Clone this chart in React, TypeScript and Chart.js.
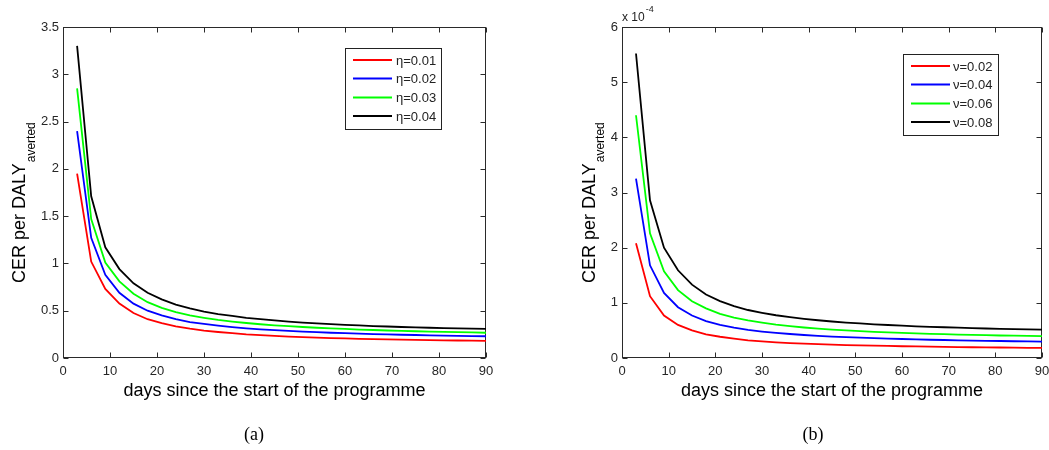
import React, { useEffect, useRef } from "react";
import { Chart, registerables } from "chart.js";

Chart.register(...registerables);

// ---------- data ----------
const DAYS = [3, 6, 9, 12, 15, 18, 21, 24, 27, 30, 33, 36, 39, 42, 45, 48, 51, 54, 57, 60, 63, 66, 69, 72, 75, 78, 81, 84, 87, 90];

const ETA_LABELS = ["η=0.01", "η=0.02", "η=0.03", "η=0.04"];
const ETA_001 = [1.95, 1.02, 0.73, 0.575, 0.475, 0.41, 0.37, 0.335, 0.31, 0.29, 0.275, 0.262, 0.25, 0.242, 0.234, 0.227, 0.221, 0.216, 0.211, 0.207, 0.203, 0.2, 0.197, 0.194, 0.191, 0.189, 0.187, 0.185, 0.183, 0.181];
const ETA_002 = [2.4, 1.27, 0.88, 0.69, 0.575, 0.5, 0.45, 0.41, 0.38, 0.36, 0.342, 0.327, 0.314, 0.303, 0.294, 0.286, 0.279, 0.273, 0.267, 0.262, 0.257, 0.253, 0.249, 0.246, 0.243, 0.24, 0.237, 0.234, 0.232, 0.23];
const ETA_003 = [2.85, 1.47, 1.01, 0.81, 0.68, 0.59, 0.53, 0.485, 0.45, 0.425, 0.403, 0.385, 0.37, 0.357, 0.346, 0.336, 0.328, 0.32, 0.313, 0.307, 0.301, 0.296, 0.291, 0.287, 0.283, 0.279, 0.276, 0.273, 0.27, 0.267];
const ETA_004 = [3.3, 1.71, 1.17, 0.94, 0.79, 0.69, 0.62, 0.565, 0.525, 0.49, 0.465, 0.445, 0.425, 0.41, 0.397, 0.385, 0.375, 0.366, 0.358, 0.351, 0.344, 0.338, 0.333, 0.328, 0.324, 0.32, 0.316, 0.313, 0.31, 0.307];

// panel (b) values in units of 10^-4
const NU_LABELS = ["ν=0.02", "ν=0.04", "ν=0.06", "ν=0.08"];
const NU_002 = [2.08, 1.12, 0.77, 0.6, 0.5, 0.43, 0.385, 0.35, 0.32, 0.3, 0.285, 0.27, 0.26, 0.25, 0.242, 0.235, 0.229, 0.223, 0.218, 0.213, 0.209, 0.205, 0.201, 0.198, 0.195, 0.192, 0.19, 0.187, 0.185, 0.183];
const NU_004 = [3.25, 1.68, 1.18, 0.92, 0.77, 0.67, 0.6, 0.55, 0.51, 0.48, 0.455, 0.435, 0.417, 0.402, 0.389, 0.378, 0.368, 0.359, 0.351, 0.344, 0.337, 0.331, 0.326, 0.321, 0.316, 0.312, 0.308, 0.304, 0.301, 0.298];
const NU_006 = [4.4, 2.26, 1.57, 1.23, 1.03, 0.9, 0.8, 0.73, 0.68, 0.64, 0.605, 0.577, 0.553, 0.533, 0.515, 0.5, 0.487, 0.475, 0.464, 0.455, 0.446, 0.438, 0.431, 0.425, 0.419, 0.413, 0.408, 0.404, 0.4, 0.396];
const NU_008 = [5.52, 2.86, 2.0, 1.59, 1.33, 1.15, 1.03, 0.94, 0.87, 0.82, 0.775, 0.74, 0.71, 0.684, 0.662, 0.643, 0.626, 0.611, 0.598, 0.586, 0.575, 0.566, 0.557, 0.549, 0.542, 0.535, 0.529, 0.523, 0.518, 0.513];

const X_TICKS = [0, 10, 20, 30, 40, 50, 60, 70, 80, 90];
const Y_TICKS_A = [0, 0.5, 1, 1.5, 2, 2.5, 3, 3.5];
const Y_TICKS_B = [0, 1, 2, 3, 4, 5, 6];

const X_TITLE = "days since the start of the programme";
const Y_TITLE = "CER per DALY";
const Y_SUB = "averted";
const EXP_LABEL = "x 10";
const EXP_POWER = "-4";

const COLORS = ["#ff0000", "#0000ff", "#00ff00", "#000000"];

const SANS = "'Liberation Sans', Arial, Helvetica, sans-serif";
const SERIF = "'Liberation Serif', 'Times New Roman', serif";

type PanelSpec = {
  series: number[][];
  labels: string[];
  yMax: number;
  yTicks: number[];
  caption: string;
  width: number;
  plotLeft: number;
  plotRight: number;
  plotTop: number;
  plotBottom: number;
  yTitleX: number;
  ySubX: number;
  legend: { x: number; y: number; w: number; h: number; lx0: number; lx1: number; tx: number; rows: number[] };
  captionX: number;
  exponent: boolean;
};

function makeConfig(p: PanelSpec): any {
  const H = 450;
  const framePlugin = {
    id: "frame",
    beforeDatasetsDraw(chart: any) {
      const { ctx, chartArea: a, scales } = chart;
      ctx.save();
      ctx.strokeStyle = "#2a2a2a";
      ctx.lineWidth = 1;
      const L = Math.round(a.left) + 0.5, R = Math.round(a.right) - 0.5;
      const T = Math.round(a.top) + 0.5, B = Math.round(a.bottom) - 0.5;
      ctx.strokeRect(L, T, R - L, B - T);
      ctx.beginPath();
      const tl = 5;
      X_TICKS.forEach((v) => {
        const x = Math.round(scales.x.getPixelForValue(v)) + 0.5;
        ctx.moveTo(x, B); ctx.lineTo(x, B - tl);
        ctx.moveTo(x, T); ctx.lineTo(x, T + tl);
      });
      p.yTicks.forEach((v) => {
        const y = Math.round(scales.y.getPixelForValue(v)) + 0.5;
        ctx.moveTo(L, y); ctx.lineTo(L + tl, y);
        ctx.moveTo(R, y); ctx.lineTo(R - tl, y);
      });
      ctx.stroke();
      ctx.restore();
    },
    afterDatasetsDraw(chart: any) {
      const { ctx, chartArea: a } = chart;
      ctx.save();
      // legend
      const lg = p.legend;
      ctx.fillStyle = "#ffffff";
      ctx.fillRect(lg.x, lg.y, lg.w, lg.h);
      ctx.strokeStyle = "#222";
      ctx.lineWidth = 1;
      ctx.strokeRect(lg.x + 0.5, lg.y + 0.5, lg.w, lg.h);
      ctx.font = `13px ${SANS}`;
      ctx.textBaseline = "middle";
      ctx.textAlign = "left";
      p.labels.forEach((lab, i) => {
        const y = lg.rows[i];
        ctx.strokeStyle = COLORS[i];
        ctx.lineWidth = 2;
        ctx.beginPath();
        ctx.moveTo(lg.lx0, y);
        ctx.lineTo(lg.lx1, y);
        ctx.stroke();
        ctx.fillStyle = "#222";
        ctx.fillText(lab, lg.tx, y + 1);
      });
      // x title
      ctx.fillStyle = "#000";
      ctx.font = `18px ${SANS}`;
      ctx.textAlign = "center";
      ctx.textBaseline = "alphabetic";
      ctx.fillText(X_TITLE, (a.left + a.right) / 2, 396);
      // y title with subscript
      ctx.save();
      ctx.translate(p.yTitleX, 283);
      ctx.rotate(-Math.PI / 2);
      ctx.textAlign = "left";
      ctx.font = `18px ${SANS}`;
      ctx.fillText(Y_TITLE, 0, 0);
      const w = ctx.measureText(Y_TITLE).width;
      ctx.font = `12px ${SANS}`;
      ctx.fillText(Y_SUB, w + 1, p.ySubX - p.yTitleX);
      ctx.restore();
      // exponent label
      if (p.exponent) {
        ctx.fillStyle = "#222";
        ctx.textAlign = "left";
        ctx.font = `12px ${SANS}`;
        ctx.fillText(EXP_LABEL, a.left, 21);
        const ew = ctx.measureText(EXP_LABEL).width;
        ctx.font = `9px ${SANS}`;
        ctx.fillText(EXP_POWER, a.left + ew + 1, 12);
      }
      // caption
      ctx.fillStyle = "#000";
      ctx.font = `18px ${SERIF}`;
      ctx.textAlign = "center";
      ctx.fillText(p.caption, p.captionX, 440);
      ctx.restore();
    },
  };

  return {
    type: "line",
    data: {
      datasets: p.series.map((s, i) => ({
        label: p.labels[i],
        data: DAYS.map((d, j) => ({ x: d, y: s[j] })),
        borderColor: COLORS[i],
        backgroundColor: COLORS[i],
        borderWidth: 1.8,
        pointRadius: 0,
        tension: 0,
        fill: false,
      })),
    },
    options: {
      responsive: false,
      animation: false,
      events: [],
      layout: { padding: { top: p.plotTop, right: p.width - p.plotRight, left: 0, bottom: 0 } },
      plugins: { legend: { display: false }, tooltip: { enabled: false }, title: { display: false } },
      scales: {
        x: {
          type: "linear",
          min: 0,
          max: 90,
          offset: false,
          grid: { display: false, drawTicks: false },
          border: { display: false },
          afterBuildTicks: (s: any) => { s.ticks = X_TICKS.map((v) => ({ value: v })); },
          afterFit: (s: any) => { s.height = H - p.plotBottom; s.paddingLeft = 0; s.paddingRight = 0; },
          ticks: {
            padding: 6,
            maxRotation: 0,
            autoSkip: false,
            color: "#262626",
            font: { family: SANS, size: 13 },
            callback: (v: any) => String(v),
          },
        },
        y: {
          type: "linear",
          min: 0,
          max: p.yMax,
          grid: { display: false, drawTicks: false },
          border: { display: false },
          afterBuildTicks: (s: any) => { s.ticks = p.yTicks.map((v) => ({ value: v })); },
          afterFit: (s: any) => { s.width = p.plotLeft; s.paddingTop = 0; s.paddingBottom = 0; },
          ticks: {
            padding: 4,
            autoSkip: false,
            color: "#262626",
            font: { family: SANS, size: 13 },
            callback: (v: any) => String(v),
          },
        },
      },
    },
    plugins: [framePlugin],
  };
}

const PANEL_A: PanelSpec = {
  series: [ETA_001, ETA_002, ETA_003, ETA_004],
  labels: ETA_LABELS,
  yMax: 3.5,
  yTicks: Y_TICKS_A,
  caption: "(a)",
  width: 525,
  plotLeft: 63,
  plotRight: 486,
  plotTop: 27,
  plotBottom: 358,
  yTitleX: 25,
  ySubX: 35,
  legend: { x: 345, y: 48, w: 96, h: 81, lx0: 353, lx1: 392, tx: 396, rows: [60, 78.5, 97.5, 116] },
  captionX: 254,
  exponent: false,
};

const PANEL_B: PanelSpec = {
  series: [NU_002, NU_004, NU_006, NU_008],
  labels: NU_LABELS,
  yMax: 6,
  yTicks: Y_TICKS_B,
  caption: "(b)",
  width: 524,
  plotLeft: 97,
  plotRight: 517,
  plotTop: 27,
  plotBottom: 358,
  yTitleX: 70,
  ySubX: 79,
  legend: { x: 378, y: 54, w: 95, h: 81, lx0: 386, lx1: 425, tx: 428, rows: [66, 84.5, 103.5, 122] },
  captionX: 288,
  exponent: true,
};

function Panel({ spec, left }: { spec: PanelSpec; left: number }) {
  const ref = useRef<HTMLCanvasElement>(null);
  useEffect(() => {
    if (!ref.current) return;
    const chart = new Chart(ref.current, makeConfig(spec));
    return () => chart.destroy();
  }, [spec]);
  return (
    <canvas
      ref={ref}
      width={spec.width}
      height={450}
      style={{ position: "absolute", left, top: 0, width: spec.width, height: 450 }}
    />
  );
}

export default function App() {
  return (
    <div style={{ position: "fixed", left: 0, top: 0, width: 1049, height: 450, background: "#fff", overflow: "hidden" }}>
      <Panel spec={PANEL_A} left={0} />
      <Panel spec={PANEL_B} left={525} />
    </div>
  );
}
